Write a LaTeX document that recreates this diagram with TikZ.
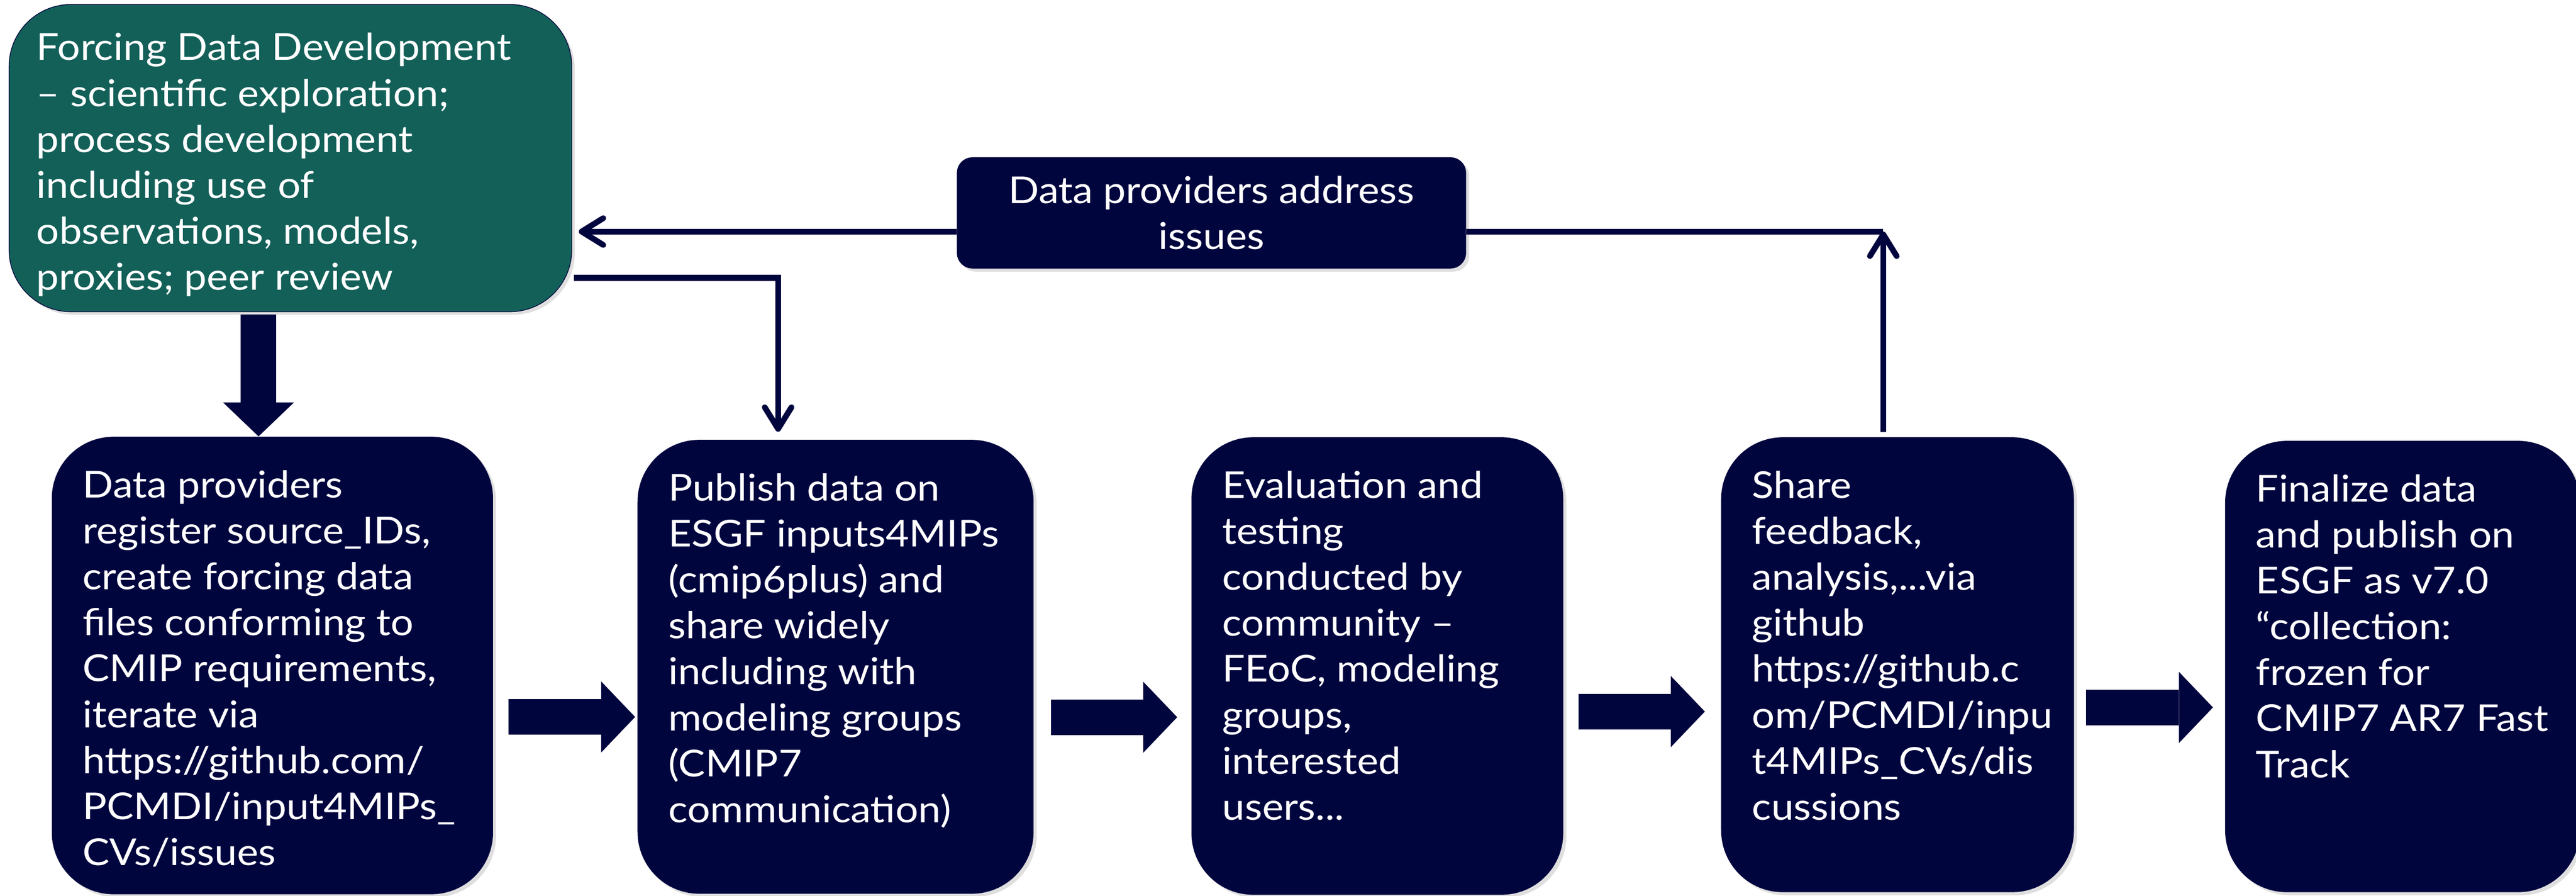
\documentclass[tikz,border=0pt]{standalone}
\usepackage{fontspec}
\setmainfont{Lato}[FakeStretch=1.09]
\usetikzlibrary{arrows.meta,positioning,shadows}
\definecolor{navybox}{RGB}{1,5,62}
\definecolor{tealbox}{RGB}{19,96,89}
\newcommand{\boxtext}[3]{\parbox[t][#2][t]{#1}{\begin{tabular}[t]{@{}l@{}}#3\end{tabular}}}
\tikzset{
  basebox/.style = {anchor=north west, text=white,
    font=\fontsize{20.5}{25.4}\selectfont,
    drop shadow={shadow xshift=0.06cm, shadow yshift=-0.06cm, opacity=0.25}},
  stepbox/.style = {basebox, fill=navybox, rounded corners=1.2cm,
    inner xsep=0.6cm, inner ysep=0.56cm},% bottom row
  devbox/.style = {basebox, fill=tealbox, draw=navybox, thin,
    rounded corners=1.2cm, inner xsep=0.53cm, inner ysep=0.46cm},% forcing data
  fixbox/.style = {basebox, fill=navybox, rounded corners=0.3cm,
    minimum width=9.9cm, minimum height=2.16cm, align=center, inner sep=0pt},
  bigarrow/.style = {navybox, line width=0.69cm,
    -{Triangle[length=0.66cm, width=1.38cm, line width=0pt]}},
  thinline/.style = {navybox, line width=3.2pt},
  thinarrow/.style = {thinline,
    -{Straight Barb[length=0.42cm, width=0.52cm, round]}}
}
\begin{document}
\begin{tikzpicture}
  \useasboundingbox (0,0) rectangle (50.09,-17.41);

  % forcing data development
  \node [devbox] (dev) at (0.17,-0.08) {\boxtext{9.88cm}{5.05cm}{Forcing Data Development\\
    – scientific exploration;\\ process development\\ including use of\\
    observations, models,\\ proxies; peer review}};
  \node [fixbox] (fix) at (18.60,-3.05) {Data providers address\\ issues};

  % bottom row
  \node [stepbox] (reg) at (1.00,-8.48) {\boxtext{7.38cm}{7.77cm}{Data providers\\
    register source\_IDs,\\ create forcing data\\ files conforming to\\
    CMIP requirements,\\ iterate via\\ https://github.com/\\
    PCMDI/input4MIPs\_\\ CVs/issues}};
  \node [stepbox] (pub) at (12.39,-8.54) {\boxtext{6.50cm}{7.70cm}{Publish data on\\
    ESGF inputs4MIPs\\ (cmip6plus) and\\ share widely\\ including with\\
    modeling groups\\ (CMIP7\\ communication)}};
  \node [stepbox] (eval) at (23.16,-8.49) {\boxtext{6.03cm}{7.77cm}{Evaluation and\\
    testing\\ conducted by\\ community –\\ FEoC, modeling\\ groups,\\
    interested\\ users...}};
  \node [stepbox] (share) at (33.46,-8.49) {\boxtext{5.66cm}{7.72cm}{Share\\
    feedback,\\ analysis,...via\\ github\\ https://github.c\\
    om/PCMDI/inpu\\ t4MIPs\_CVs/dis\\ cussions}};
  \node [stepbox] (final) at (43.26,-8.56) {\boxtext{5.70cm}{7.65cm}{Finalize data\\
    and publish on\\ ESGF as v7.0\\ “collection:\\ frozen for\\
    CMIP7 AR7 Fast\\ Track}};

  \coordinate (turn) at (36.62,-4.50);
  \coordinate (drop) at (15.13,-5.40);

  % block arrows
  \draw [bigarrow, shorten <=0.05cm] ([xshift=-0.62cm]dev.south) -- ([xshift=-0.27cm]reg.north);
  \draw [bigarrow, shorten <=0.29cm, shorten >=0.04cm] ([yshift=-1cm]reg.east) -- ([yshift=-1cm]reg.east -| pub.west);
  \draw [bigarrow, shorten <=0.33cm, shorten >=0.27cm] ([yshift=-0.98cm]pub.east) -- ([yshift=-0.98cm]pub.east -| eval.west);
  \draw [bigarrow, shorten <=0.29cm, shorten >=0.31cm] ([yshift=-0.885cm]eval.east) -- ([yshift=-0.885cm]eval.east -| share.west);
  \draw [bigarrow, shorten <=0.23cm, shorten >=0.23cm] ([yshift=-0.83cm]share.east) -- ([yshift=-0.83cm]share.east -| final.west);

  % feedback loop
  \draw [thinarrow, shorten <=0.09cm] (share.north -| turn) -- (turn);
  \draw [thinline] (turn) -- (fix.east |- turn);
  \draw [thinarrow, shorten >=0.13cm] (fix.west |- turn) -- (dev.east |- turn);
  \draw [thinarrow, shorten <=0.04cm, shorten >=0.15cm] (dev.east |- drop) -- (drop) -- (pub.north -| drop);
\end{tikzpicture}
\end{document}
